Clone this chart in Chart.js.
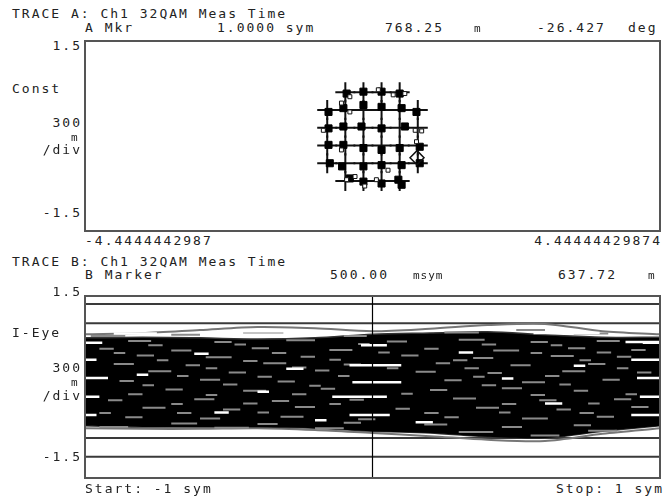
<!DOCTYPE html>
<html>
<head>
<meta charset="utf-8">
<script src="https://cdn.jsdelivr.net/npm/chart.js@4.4.1/dist/chart.umd.min.js"></script>
<style>
  html, body { margin: 0; padding: 0; background: #fff; }
  #page { position: relative; width: 667px; height: 497px; overflow: hidden; font-family: "DejaVu Sans Mono", monospace; color: #222; }
  .t { position: absolute; font-size: 13px; line-height: 16px; letter-spacing: 2px; white-space: pre; color: #222; }
  .r { text-align: right; }
  .s { font-size: 11px; letter-spacing: 1px; color: #222; background: #fff; will-change: transform; }
  canvas { position: absolute; }
</style>
</head>
<body>
<div id="page">
  <!-- trace A header -->
  <div class="t" style="left:12px;top:6px">TRACE A: Ch1 32QAM Meas Time</div>
  <div class="t" style="left:85px;top:20px">A Mkr</div>
  <div class="t" style="left:217px;top:20px">1.0000 sym</div>
  <div class="t" style="left:385px;top:20px">768.25</div>
  <div class="t s" style="left:474px;top:21px">m</div>
  <div class="t" style="left:537px;top:20px">-26.427</div>
  <div class="t" style="left:628px;top:20px">deg</div>
  <div class="t r" style="right:585px;top:38px">1.5</div>
  <div class="t" style="left:12px;top:81px">Const</div>
  <div class="t r" style="right:585px;top:115px">300</div>
  <div class="t s r" style="right:588px;top:130px">m</div>
  <div class="t r" style="right:585px;top:142px">/div</div>
  <div class="t r" style="right:585px;top:205px">-1.5</div>
  <div class="t" style="left:85px;top:233px">-4.4444442987</div>
  <div class="t r" style="right:5px;top:233px">4.44444429874</div>
  <!-- trace B header -->
  <div class="t" style="left:12px;top:254px">TRACE B: Ch1 32QAM Meas Time</div>
  <div class="t" style="left:85px;top:267px">B Marker</div>
  <div class="t" style="left:330px;top:267px">500.00</div>
  <div class="t s" style="left:413px;top:268px">msym</div>
  <div class="t" style="left:558px;top:267px">637.72</div>
  <div class="t s" style="left:648px;top:268px">m</div>
  <div class="t r" style="right:585px;top:284px">1.5</div>
  <div class="t" style="left:12px;top:325px">I-Eye</div>
  <div class="t r" style="right:585px;top:360px">300</div>
  <div class="t s r" style="right:588px;top:375px">m</div>
  <div class="t r" style="right:585px;top:388px">/div</div>
  <div class="t r" style="right:585px;top:449px">-1.5</div>
  <div class="t" style="left:85px;top:481px">Start: -1 sym</div>
  <div class="t r" style="right:3px;top:481px">Stop: 1 sym</div>

  <canvas id="constA" width="579" height="194" style="left:83px;top:39px"></canvas>
  <canvas id="eyeB" width="579" height="186" style="left:83px;top:294px"></canvas>
</div>
<script>
// ---- trace A: constellation ----
const levelsI = [-0.70, -0.42, -0.14, 0.14, 0.42, 0.70];
const levelsQ = [0.69, 0.41, 0.13, -0.15, -0.43, -0.71];

const measI = [-0.40, -0.14, 0.14, 0.42,
  -0.68, -0.45, -0.14, 0.14, 0.45, 0.68,
  -0.68, -0.45, -0.17, 0.14, 0.50,
  -0.68, -0.45, -0.14, 0.14, 0.42, 0.73,
  -0.66, -0.47, -0.14, 0.14, 0.45, 0.73,
  -0.35, -0.14, 0.14, 0.40, 0.45];
const measQ = [0.67, 0.70, 0.70, 0.67,
  0.38, 0.44, 0.49, 0.46, 0.44, 0.38,
  0.12, 0.15, 0.15, 0.12, 0.15,
  -0.14, -0.14, -0.19, -0.22, -0.19, -0.17,
  -0.43, -0.48, -0.48, -0.46, -0.46, -0.43,
  -0.67, -0.72, -0.75, -0.69, -0.77];

const sqI = [-0.35, 0.09, 0.32, 0.50, -0.48, -0.35, -0.76, 0.66, 0.76, -0.48, 0.68, 0.24, -0.40, -0.27, -0.12, 0.06];
const sqQ = [0.62, 0.73, 0.65, 0.67, 0.52, 0.38, 0.09, 0.09, 0.08, -0.22, -0.09, -0.54, -0.69, -0.64, -0.79, -0.69];

const markerI = [0.688];
const markerQ = [-0.342];

const xRangeA = [-4.4444442987, 4.44444429874];

// ---- trace B: I-eye ----
const eyeT = [-1, -0.8, -0.6, -0.4, -0.2, 0, 0.2, 0.4, 0.6, 0.8, 1];
const bandTop = [0.81, 0.82, 0.81, 0.79, 0.81, 0.87, 0.89, 0.91, 0.86, 0.82, 0.82];
const bandBottom = [-0.64, -0.66, -0.66, -0.66, -0.68, -0.73, -0.76, -0.82, -0.84, -0.73, -0.64];
const upperTrace = [0.87, 0.89, 0.94, 0.99, 0.97, 0.92, 0.96, 1.02, 1.04, 0.92, 0.87];
const lowerTrace = [-0.68, -0.69, -0.69, -0.68, -0.71, -0.76, -0.81, -0.87, -0.89, -0.77, -0.68];
const flatLevels = [1.37, 1.05, -0.84, -1.15];
const markerT = 0;

// [start time, level, length]
const grayDashes = [
  [-0.98, 0.84, 0.12], [-0.7, 0.86, 0.1], [-0.45, 0.9, 0.14], [-0.1, 0.84, 0.08], [0.25, 0.9, 0.12], [0.5, 0.94, 0.1], [0.7, 0.88, 0.12],
  [-0.85, 0.76, 0.08], [-0.55, 0.74, 0.06], [-0.3, 0.77, 0.1], [0.05, 0.75, 0.07], [0.3, 0.78, 0.09], [0.55, 0.74, 0.06], [0.78, 0.76, 0.08],
  [-0.78, 0.69, 0.05], [-0.48, 0.7, 0.04], [-0.05, 0.71, 0.04], [0.38, 0.7, 0.05], [0.62, 0.69, 0.04],
  [-0.95, 0.63, 0.05], [-0.7, 0.6, 0.07], [-0.42, 0.64, 0.06], [-0.15, 0.61, 0.08], [0.18, 0.63, 0.05], [0.42, 0.6, 0.09], [0.68, 0.64, 0.06], [0.9, 0.61, 0.05],
  [-0.9, 0.56, 0.04], [-0.35, 0.56, 0.05], [0.02, 0.57, 0.04], [0.55, 0.56, 0.04], [0.78, 0.57, 0.05],
  [-0.82, 0.52, 0.06], [-0.58, 0.49, 0.09], [-0.25, 0.5, 0.05], [0.1, 0.52, 0.06], [0.35, 0.48, 0.07], [0.62, 0.51, 0.08], [0.85, 0.5, 0.05],
  [-0.75, 0.44, 0.04], [-0.45, 0.43, 0.05], [-0.15, 0.45, 0.04], [0.28, 0.44, 0.05], [0.72, 0.44, 0.04],
  [-0.9, 0.38, 0.07], [-0.65, 0.36, 0.05], [-0.38, 0.39, 0.08], [-0.1, 0.37, 0.06], [0.22, 0.39, 0.05], [0.48, 0.36, 0.07], [0.75, 0.38, 0.06],
  [-0.58, 0.31, 0.04], [-0.28, 0.32, 0.05], [0.05, 0.31, 0.04], [0.32, 0.31, 0.05], [0.85, 0.31, 0.04],
  [-0.78, 0.26, 0.08], [-0.5, 0.24, 0.06], [-0.2, 0.27, 0.05], [0.15, 0.25, 0.07], [0.4, 0.23, 0.05], [0.66, 0.26, 0.08], [0.92, 0.24, 0.05],
  [-0.68, 0.18, 0.04], [-0.4, 0.17, 0.05], [-0.12, 0.18, 0.04], [0.35, 0.17, 0.04], [0.6, 0.18, 0.05],
  [-0.88, 0.1, 0.05], [-0.6, 0.12, 0.07], [-0.33, 0.09, 0.06], [0.25, 0.11, 0.06], [0.52, 0.08, 0.08], [0.8, 0.12, 0.06],
  [-0.8, 0.03, 0.04], [-0.52, 0.04, 0.05], [-0.22, 0.02, 0.04], [0.38, 0.03, 0.05], [0.65, 0.04, 0.04],
  [-0.72, -0.04, 0.06], [-0.45, -0.06, 0.08], [-0.18, -0.03, 0.05], [0.2, -0.05, 0.06], [0.45, -0.02, 0.07], [0.7, -0.06, 0.05],
  [-0.85, -0.12, 0.05], [-0.58, -0.13, 0.04], [-0.28, -0.12, 0.05], [0.1, -0.11, 0.04], [0.55, -0.13, 0.05], [0.88, -0.12, 0.04],
  [-0.92, -0.22, 0.05], [-0.62, -0.2, 0.07], [-0.35, -0.23, 0.06], [-0.08, -0.21, 0.05], [0.28, -0.19, 0.08], [0.58, -0.22, 0.06], [0.84, -0.2, 0.06],
  [-0.7, -0.28, 0.04], [-0.45, -0.27, 0.05], [-0.15, -0.28, 0.04], [0.45, -0.28, 0.05], [0.75, -0.27, 0.04],
  [-0.8, -0.34, 0.08], [-0.52, -0.37, 0.06], [-0.27, -0.33, 0.07], [0.08, -0.36, 0.05], [0.36, -0.34, 0.08], [0.64, -0.37, 0.05], [0.9, -0.33, 0.06],
  [-0.95, -0.43, 0.04], [-0.68, -0.43, 0.05], [-0.4, -0.42, 0.04], [0.18, -0.43, 0.05], [0.44, -0.42, 0.04], [0.72, -0.43, 0.05],
  [-0.86, -0.5, 0.06], [-0.6, -0.52, 0.07], [-0.32, -0.49, 0.08], [-0.05, -0.53, 0.06], [0.25, -0.5, 0.05], [0.52, -0.52, 0.09], [0.78, -0.49, 0.06],
  [-0.7, -0.6, 0.09], [-0.4, -0.61, 0.07], [-0.1, -0.59, 0.06], [0.18, -0.62, 0.08], [0.45, -0.66, 0.07], [0.7, -0.63, 0.06],
  [-0.95, -0.66, 0.1], [-0.55, -0.67, 0.12], [-0.2, -0.68, 0.1], [0.3, -0.74, 0.12], [0.55, -0.8, 0.1], [0.75, -0.72, 0.1]
];
const whiteStreaks = [
  [-1, 0.73, 0.06], [-1, 0.45, 0.04], [-1, 0.15, 0.08], [-1, -0.16, 0.05], [-1, -0.46, 0.04],
  [-0.04, 0.69, 0.09], [-0.08, 0.36, 0.18], [-0.07, 0.08, 0.17], [-0.14, -0.16, 0.19], [-0.08, -0.46, 0.14],
  [0.94, 0.73, 0.06], [0.9, 0.45, 0.1], [0.92, 0.15, 0.08], [0.93, -0.16, 0.07], [0.9, -0.46, 0.1],
  [-0.47, 0.92, 0.24], [0.56, 0.89, 0.23], [0.88, 0.74, 0.12], [-0.9, 0.88, 0.15],
  [-0.62, 0.55, 0.05], [-0.3, 0.3, 0.06], [0.3, 0.57, 0.05], [0.6, -0.27, 0.06], [-0.55, -0.42, 0.05], [0.15, -0.58, 0.06],
  [-0.82, 0.2, 0.04], [0.45, 0.14, 0.04], [-0.4, -0.08, 0.04], [0.7, 0.35, 0.04], [-0.2, -0.55, 0.04]
];

function pairs(xs, ys) {
  return xs.map((x, i) => ({ x: x, y: ys[i] }));
}
function dashPoints(list) {
  const pts = [];
  list.forEach(([t, v, len]) => {
    pts.push({ x: t, y: v }, { x: t + len, y: v }, { x: t + len, y: null });
  });
  return pts;
}

const boxFrame = {
  id: 'boxFrame',
  afterDraw(chart) {
    const { ctx, chartArea: a } = chart;
    ctx.save();
    ctx.strokeStyle = '#555';
    ctx.lineWidth = 2;
    ctx.strokeRect(a.left, a.top, a.right - a.left, a.bottom - a.top);
    ctx.restore();
  }
};

const ideal = [];
levelsQ.forEach((q, j) => {
  levelsI.forEach((i, k) => {
    const corner = (k === 0 || k === 5) && (j === 0 || j === 5);
    if (!corner) ideal.push({ x: i, y: q });
  });
});

new Chart(document.getElementById('constA'), {
  type: 'scatter',
  data: {
    datasets: [
      { data: pairs(markerI, markerQ), pointStyle: 'rectRot', pointRadius: 7, backgroundColor: 'rgba(255,255,255,0)', borderColor: '#111', borderWidth: 1.5, order: 0 },
      { data: pairs(sqI, sqQ), pointStyle: 'rect', pointRadius: 2.8, backgroundColor: '#fff', borderColor: '#111', borderWidth: 1, order: 1 },
      { data: pairs(measI, measQ), pointStyle: 'rect', pointRadius: 5, backgroundColor: '#000', borderColor: '#000', borderWidth: 1, order: 2 },
      { data: ideal, pointStyle: 'cross', pointRadius: 10, borderColor: '#111', borderWidth: 2, order: 3 }
    ]
  },
  options: {
    responsive: false,
    animation: false,
    layout: { padding: 2, autoPadding: false },
    plugins: { legend: { display: false }, tooltip: { enabled: false } },
    scales: {
      x: { type: 'linear', min: xRangeA[0], max: xRangeA[1], display: false },
      y: { type: 'linear', min: -1.5, max: 1.5, display: false }
    }
  },
  plugins: [boxFrame]
});

const eyeDatasets = [
  { data: [{ x: markerT, y: -1.5 }, { x: markerT, y: 1.5 }], borderColor: '#000', borderWidth: 1.2, order: 0 },
  { data: dashPoints(whiteStreaks), borderColor: '#fff', borderWidth: 2.5, order: 1 },
  { data: dashPoints(grayDashes), borderColor: '#8a8a8a', borderWidth: 2, order: 2 },
  { data: pairs(eyeT, bandTop), borderColor: '#333', borderWidth: 1.5, backgroundColor: '#000', fill: 4, tension: 0.3, order: 3 },
  { data: pairs(eyeT, bandBottom), borderColor: '#333', borderWidth: 1.5, tension: 0.3, order: 3 },
  { data: pairs(eyeT, upperTrace), borderColor: '#777', borderWidth: 2, tension: 0.3, order: 4 },
  { data: pairs(eyeT, lowerTrace), borderColor: '#777', borderWidth: 2, tension: 0.3, order: 4 }
];
flatLevels.forEach(v => {
  eyeDatasets.push({ data: [{ x: -1, y: v }, { x: 1, y: v }], borderColor: '#3a3a3a', borderWidth: 2, order: 5 });
});

new Chart(document.getElementById('eyeB'), {
  type: 'line',
  data: { datasets: eyeDatasets },
  options: {
    responsive: false,
    animation: false,
    layout: { padding: 2, autoPadding: false },
    elements: { point: { radius: 0 } },
    plugins: { legend: { display: false }, tooltip: { enabled: false } },
    scales: {
      x: { type: 'linear', min: -1, max: 1, display: false },
      y: { type: 'linear', min: -1.5, max: 1.5, display: false }
    }
  },
  plugins: [boxFrame]
});
</script>
</body>
</html>
